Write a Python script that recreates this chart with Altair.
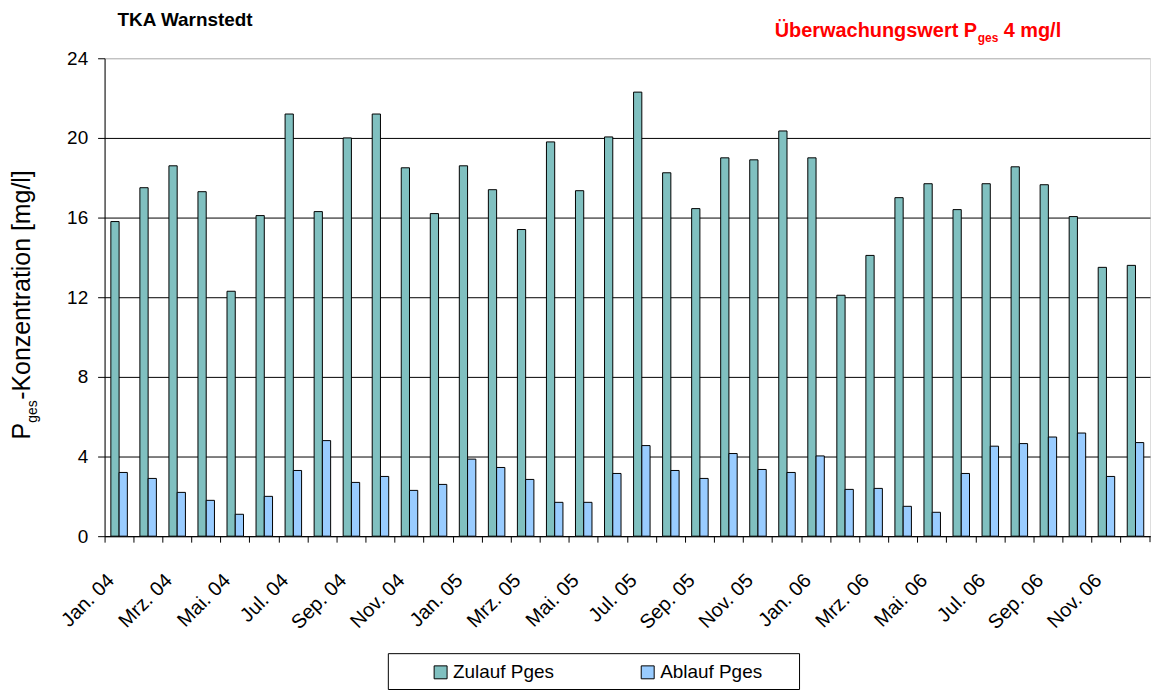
import altair as alt
import pandas as pd

FONT = "Liberation Sans, Arial, Helvetica, sans-serif"

month_names = ["Jan.", "Feb.", "Mrz.", "Apr.", "Mai.", "Jun.", "Jul.", "Aug.", "Sep.", "Okt.", "Nov.", "Dez."]
years = ["04", "05", "06"]
months = [f"{m} {y}" for y in years for m in month_names]

series = ["Zulauf Pges", "Ablauf Pges"]

zulauf = [15.8, 17.5, 18.6, 17.3, 12.3, 16.1, 21.2, 16.3, 20.0, 21.2, 18.5, 16.2,
          18.6, 17.4, 15.4, 19.8, 17.35, 20.05, 22.3, 18.25, 16.45, 19.0, 18.9, 20.35,
          19.0, 12.1, 14.1, 17.0, 17.7, 16.4, 17.7, 18.55, 17.65, 16.05, 13.5, 13.6]
ablauf = [3.2, 2.9, 2.2, 1.8, 1.1, 2.0, 3.3, 4.8, 2.7, 3.0, 2.3, 2.6,
          3.87, 3.45, 2.85, 1.7, 1.7, 3.15, 4.55, 3.3, 2.9, 4.15, 3.35, 3.2,
          4.03, 2.35, 2.4, 1.5, 1.2, 3.15, 4.52, 4.65, 4.98, 5.18, 3.0, 4.7]

y_ticks = [0, 4, 8, 12, 16, 20, 24]
colors = ["#80C0C0", "#99CCFF"]

rows = []
for m, z, a in zip(months, zulauf, ablauf):
    rows.append({"Monat": m, "Reihe": series[0], "Wert": z})
    rows.append({"Monat": m, "Reihe": series[1], "Wert": a})
df = pd.DataFrame(rows)

W, H = 1050, 480

bars = alt.Chart(df).mark_bar(stroke="black", strokeWidth=1).encode(
    x=alt.X(
        "Monat:N", sort=months,
        scale=alt.Scale(paddingInner=0, paddingOuter=0),
        axis=alt.Axis(
            title=None, bandPosition=0, labelOffset=-8, labelAngle=-45,
            labelAlign="right", labelBaseline="middle", labelPadding=35,
            tickSize=6, tickColor="black", domainColor="black", grid=False,
            labelOverlap=False, labelFontSize=20, labelColor="black", labelFont=FONT,
            labelExpr="test(/^(Jan|Mrz|Mai|Jul|Sep|Nov)/, datum.value) ? datum.label : ''",
        ),
    ),
    xOffset=alt.XOffset("Reihe:N", sort=series,
                        scale=alt.Scale(domain=series, paddingInner=0, paddingOuter=0.76)),
    y=alt.Y(
        "Wert:Q",
        scale=alt.Scale(domain=[0, 24], nice=False),
        axis=alt.Axis(
            title=None, values=y_ticks, tickSize=7, tickColor="black",
            domainColor="black", labelPadding=10, labelFontSize=19,
            labelColor="black", labelFont=FONT,
            gridColor={"condition": {"test": "datum.value === 24", "value": "#B4B4B4"}, "value": "black"},
            gridWidth=1,
        ),
    ),
    color=alt.Color(
        "Reihe:N", sort=series,
        scale=alt.Scale(domain=series, range=colors),
        legend=alt.Legend(
            title=None, orient="none", legendX=328, legendY=607,
            direction="horizontal", symbolType="square", symbolSize=169,
            symbolStrokeColor="black", symbolStrokeWidth=1,
            labelFontSize=19, labelFont=FONT, labelColor="black",
            columnPadding=84, labelOffset=3, padding=0,
        ),
    ),
)

legend_box = alt.Chart(pd.DataFrame({"k": [0]})).mark_rect(
    fill="white", stroke="black", strokeWidth=1
).encode(x=alt.value(285), x2=alt.value(698), y=alt.value(598), y2=alt.value(634))


def txt(s, x, y, size, bold=False, color="black", angle=0):
    kw = dict(align="left", baseline="alphabetic", fontSize=size, font=FONT, color=color,
              fontWeight="bold" if bold else "normal")
    if angle:
        kw["angle"] = angle
    return alt.Chart(pd.DataFrame({"t": [s]})).mark_text(**kw).encode(
        x=alt.value(x), y=alt.value(y), text="t:N")


title_left = txt("TKA Warnstedt", 13, -32, 19, bold=True)
red1 = txt("Überwachungswert P", 673, -21, 20, bold=True, color="#FF0000")
red2 = txt("ges", 877, -16, 12, bold=True, color="#FF0000")
red3 = txt("4 mg/l", 903, -21, 20, bold=True, color="#FF0000")

yt1 = txt("P", -75, 383, 25, angle=270)
yt2 = txt("ges", -68, 366, 14, angle=270)
yt3 = txt("-Konzentration [mg/l]", -75, 343, 25, angle=270)

end_tick = alt.Chart(pd.DataFrame({"k": [0]})).mark_rule(color="black", strokeWidth=1).encode(
    x=alt.value(W), y=alt.value(H), y2=alt.value(H + 6))

chart = alt.layer(
    legend_box, bars, end_tick, title_left, red1, red2, red3, yt1, yt2, yt3
).properties(
    width=W, height=H,
    autosize=alt.AutoSizeParams(type="none"),
    padding={"left": 97, "top": 49, "right": 2, "bottom": 154},
).configure_view(
    stroke="#B4B4B4", strokeWidth=1
).configure(font=FONT, background="white")

chart.save("out.html", embed_options={"renderer": "svg", "actions": False})
